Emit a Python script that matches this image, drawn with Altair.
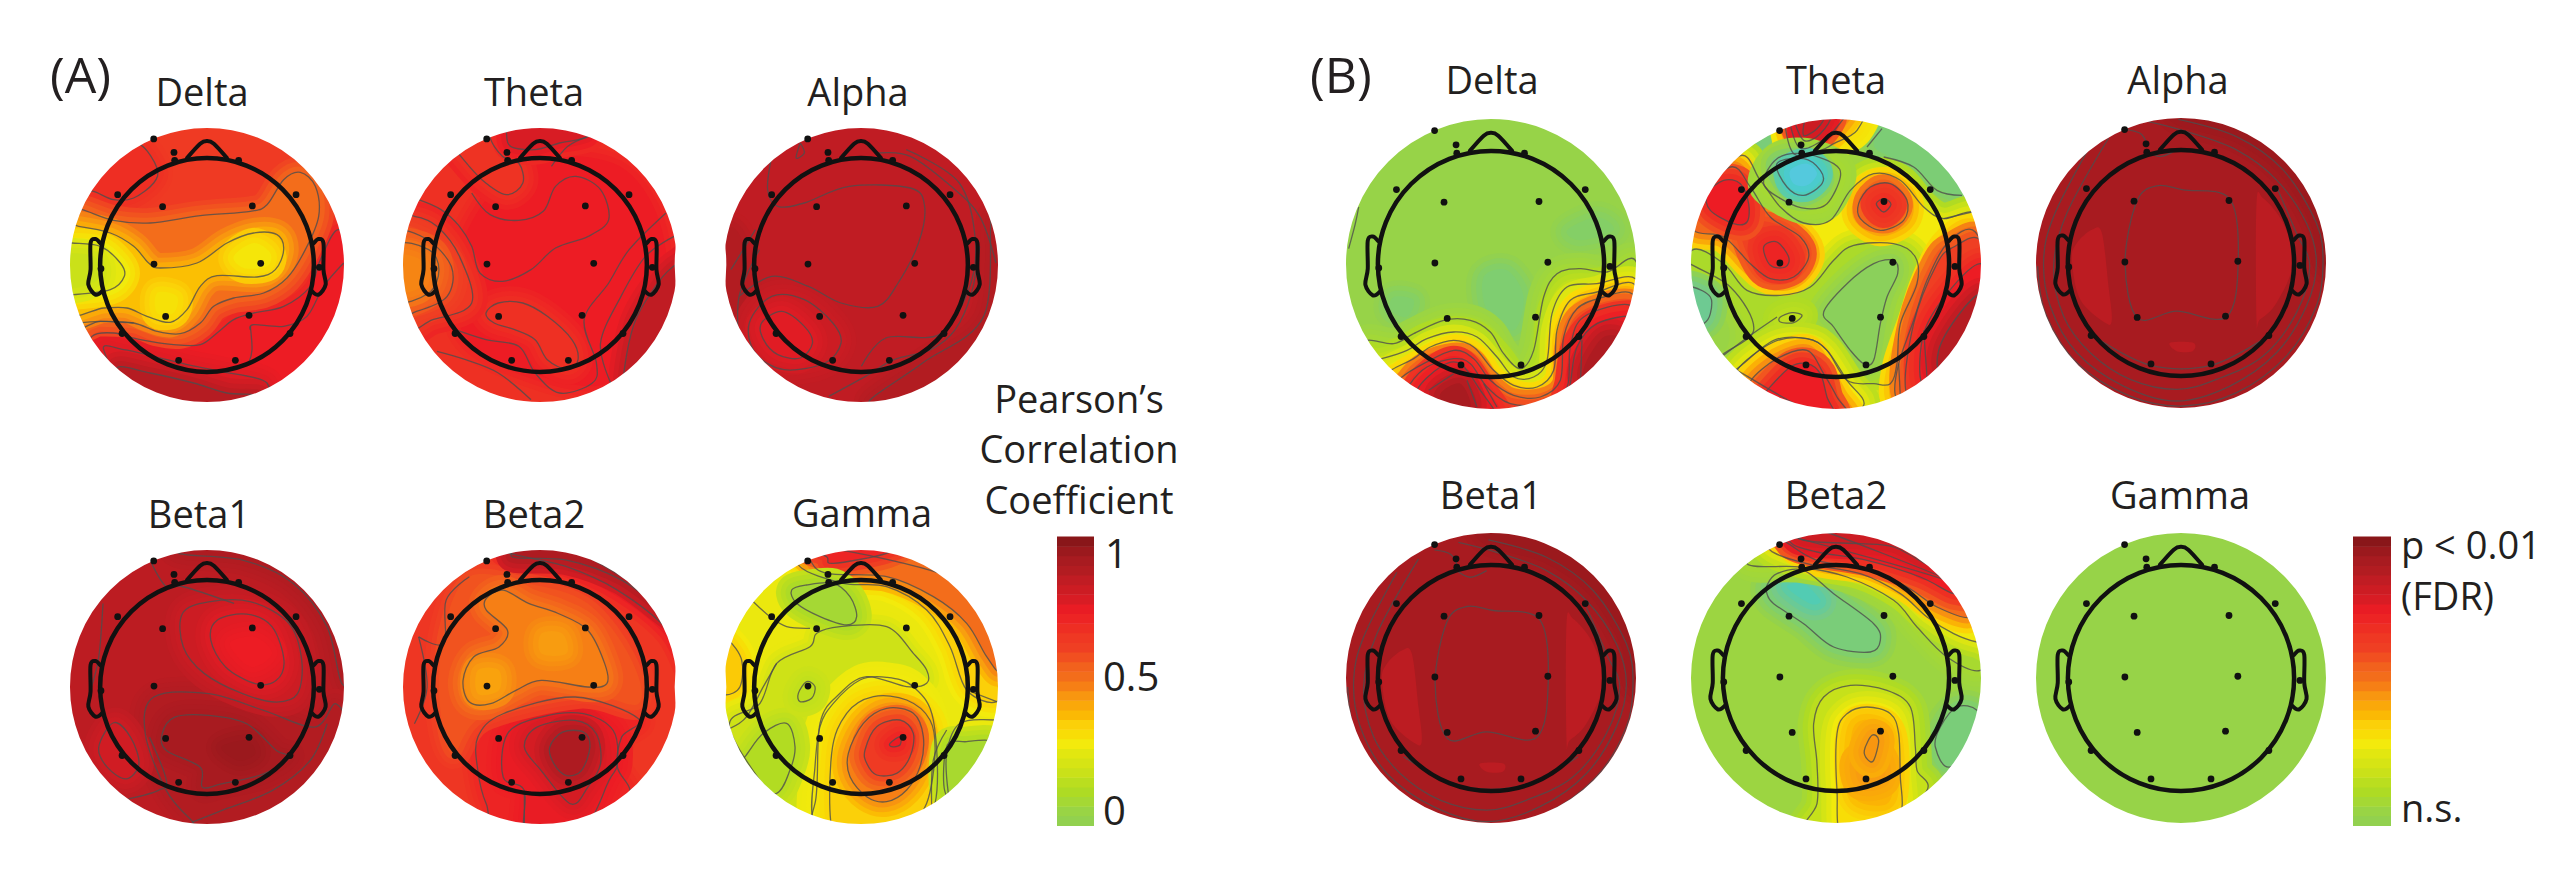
import math
import altair as alt
import pandas as pd

W, H = 2560, 865
FONT = "Open Sans"
INK = "#231f20"

color_domain = [-0.4, -0.12, 0, 0.1, 0.2, 0.27, 0.33, 0.42, 0.5, 0.6, 0.72, 0.85, 0.9, 1]
color_range = ["#6ac6ea", "#76c98a", "#92d14f", "#aedb24", "#d6e414", "#f3ea0c", "#fbd009", "#f89c10",
               "#f36d1b", "#ef3f23", "#ed1c24", "#b81c22", "#a81b20", "#7c1416"]
bar_levels = [0.0, 0.03, 0.07, 0.1, 0.13, 0.17, 0.2, 0.23, 0.27, 0.3, 0.33, 0.37, 0.4, 0.43, 0.47, 0.5, 0.53, 0.57,
              0.6, 0.63, 0.67, 0.7, 0.73, 0.77, 0.8, 0.83, 0.87, 0.9, 0.93, 0.97]

electrodes = [(-.389, -.920), (-.241, -.822), (-.236, -.764), (.231, -.764), (-.652, -.513), (.650, -.513),
              (-.324, -.426), (.331, -.431), (-.387, -.007), (.392, -.012), (-.774, .027), (.820, .017),
              (-.302, .375), (.307, .367), (-.62, .50), (.606, .50), (-.207, .696), (.207, .696)]
nose = [(-.146, -.78), (-.05, -.885), (0, -.905), (.05, -.885), (.146, -.78)]
ear_left = [(-.78, -.16), (-.815, -.19), (-.85, -.16), (-.85, .034), (-.866, .144), (-.815, .216), (-.766, .19)]
ear_right = [(-x, y) for x, y in ear_left]

delta_a_polys = [
    (.62, .72, 1, [(275,920),(340,910),(420,930),(520,945),(600,945),(650,910),(700,870),(760,850),(850,830),(930,770),(960,690),(1015,600),(1100,700),(1050,1000),(700,1180),(400,1150),(250,1000)]),
    (.72, .76, 1, [(310,960),(370,960),(460,980),(560,1005),(660,1025),(800,1060),(760,1180),(400,1150)]),
    (.76, .86, 1, [(350,1015),(450,1030),(580,1060),(680,1090),(780,1100),(700,1180),(400,1150)]),
    (.62, .67, 1, [(420,345),(470,415),(460,460),(400,505),(340,510),(280,485),(200,460),(300,280)]),
    (.62, .5, 1, [(180,530),(245,540),(340,572),(450,580),(600,558),(750,545),(800,525),(850,450),(900,428),(945,470),(955,560),(915,660),(860,745),(790,790),(700,805),(640,830),(600,880),(540,912),(470,905),(400,880),(300,875),(180,885)]),
    (.5, .36, 1, [(170,585),(235,590),(330,610),(400,650),(445,700),(480,715),(590,700),(680,640),(760,610),(830,615),(850,660),(825,720),(770,742),(650,738),(600,770),(560,840),(510,878),(440,860),(380,835),(310,835),(170,850)]),
    (.36, .28, 0, [(700,680),(760,640),(810,670),(800,710),(730,715)]),
    (.36, .29, 0, [(470,790),(530,800),(520,850),(470,850)]),
    (.34, .24, 1, [(160,635),(215,640),(300,650),(360,700),(372,740),(330,780),(220,795),(160,795)]),
    (.24, .17, 0, [(180,680),(280,680),(300,740),(250,770),(180,770)]),
]
delta_a_lines = [
    [(235,880),(300,875),(400,880)],
    [(750,890),(755,960),(745,1000)],
    [(1030,700),(970,770),(920,860),(850,890),(760,885),(750,900)],
]

theta_a_polys = [
    (.66, .72, 0, [(310,440),(440,380),(600,420),(690,600),(690,850),(560,1060),(350,1020),(200,900),(200,650)]),
    (.72, .65, 1, [(195,375),(250,450),(310,495),(350,460),(340,400),(300,380),(270,320),(290,250),(150,300)]),
    (.72, .66, 1, [(260,850),(290,820),(350,820),(410,860),(470,930),(485,990),(460,1020),(410,990),(380,930),(330,900),(280,880)]),
    (.66, .77, 1, [(310,310),(320,350),(380,360),(440,340),(510,320),(500,270),(310,270)]),
    (.72, .83, 1, [(620,1120),(620,890),(680,760),(730,700),(800,700),(800,1120)]),
    (.72, .63, 1, [(85,560),(140,590),(195,680),(225,820),(130,870),(30,900),(20,560)]),
    (.63, .57, 1, [(30,620),(110,625),(175,710),(165,800),(90,845),(30,850)]),
    (.57, .5, 1, [(40,650),(120,660),(145,720),(120,790),(40,810)]),
    (.5, .46, 0, [(40,680),(100,690),(110,740),(90,780),(40,780)]),
]
theta_a_lines = [
    [(225,490),(270,555),(340,572),(400,545),(430,470),(480,440),(540,480),(560,570),(510,620),(430,655),(370,720),(300,755),(245,730),(225,650),(195,590),(150,540),(95,510)],
    [(510,320),(460,350),(420,410)],
    [(185,900),(260,930),(340,950),(380,1030),(440,1090),(520,1060),(530,1000),(500,870),(560,760),(610,660),(700,550)],
    [(140,965),(210,990),(290,1030),(370,1110)],
    [(720,620),(650,680),(590,800),(540,940),(565,1060)],
]

alpha_a_polys = [
    (.83, .87, 1, [(1500,560),(1480,860),(1330,1000),(1200,1120),(1500,1150),(1600,800)]),
    (.82, .87, 0, [(850,600),(890,640),(900,780),(1000,1040),(900,1080),(800,800)]),
    (.83, .8, 1, [(905,880),(960,800),(1040,810),(1110,880),(1130,940),(1090,1000),(990,1020),(920,970)]),
    (.8, .75, 1, [(935,880),(985,845),(1040,890),(1060,940),(1030,985),(975,975),(940,930)]),
]
alpha_a_lines = [
    [(880,800),(960,740),(1050,770),(1130,820),(1220,830),(1270,760),(1320,640),(1335,530),(1300,475),(1150,470),(1040,520),(975,530),(950,480),(960,380)],
    [(1220,370),(1300,380),(1400,470),(1470,560),(1510,700)],
    [(1100,1100),(1190,1040),(1260,990),(1350,960),(1410,900),(1450,790),(1470,650)],
    [(1180,1010),(1240,925),(1370,915),(1440,790),(1460,640),(1420,460),(1290,360)],
    [(860,720),(920,600)],
    [(880,950),(880,800),(930,660)],
    [(1030,340),(1020,385),(1040,370),(1030,340)],
]

beta1_a_polys = [
    (.84, .88, 1, [(330,250),(480,270),(600,340),(680,470),(715,640),(800,600),(600,150),(330,150)]),
    (.84, .87, 1, [(250,790),(270,680),(400,670),(530,720),(650,770),(700,700),(720,800),(600,1000),(400,1090),(360,1050),(300,960)]),
    (.87, .9, 1, [(290,790),(320,740),(400,735),(490,760),(560,840),(590,860),(530,910),(430,940),(385,950),(380,890),(300,840)]),
    (.9, .93, 0, [(430,830),(490,810),(510,850),(470,870)]),
    (.84, .8, 1, [(338,430),(400,395),(500,395),(590,460),(620,570),(610,670),(560,695),(480,670),(390,610),(340,530)]),
    (.8, .75, 1, [(405,510),(420,450),(490,432),(550,470),(578,570),(560,630),(510,640),(440,590)]),
    (.75, .72, 0, [(450,520),(510,500),(550,550),(500,590)]),
    (.84, .79, 1, [(140,830),(175,757),(215,800),(235,880),(205,925),(160,890)]),
]
beta1_a_lines = [
    [(265,280),(300,350),(340,350),(460,400)],
    [(150,400),(140,560),(120,660)],
    [(360,1055),(430,1020),(550,960),(640,870),(680,760)],
    [(210,985),(280,960),(300,930),(260,800)],
]

beta2_a_polys = [
    (.64, .7, 1, [(1040,800),(1100,730),(1270,680),(1420,745),(1380,800),(1370,890),(1400,960),(1420,1120),(1100,1120),(1060,1000),(1040,900)]),
    (.7, .73, 1, [(1110,790),(1190,740),(1290,730),(1360,780),(1370,880),(1350,930),(1300,1060),(1230,1120),(1150,1120),(1150,960),(1100,920)]),
    (.73, .78, 1, [(1150,830),(1180,770),(1270,750),(1320,790),(1330,880),(1300,950),(1260,1000),(1190,900)]),
    (.78, .88, 1, [(1210,830),(1240,785),(1290,785),(1305,830),(1285,900),(1250,915),(1220,880)]),
    (.64, .56, 0, [(960,480),(1020,320),(1160,340),(1300,400),(1400,560),(1420,700),(1280,670),(1050,740),(980,850),(950,700)]),
    (.56, .47, 1, [(1060,385),(1100,360),(1160,400),(1230,430),(1300,480),(1340,580),(1345,640),(1300,650),(1190,630),(1130,660),(1070,700),(1020,695),(1005,630),(1030,560),(1090,530),(1110,480),(1060,420)]),
    (.47, .42, 0, [(1190,490),(1240,490),(1250,550),(1190,550)]),
    (.47, .41, 0, [(1040,600),(1090,600),(1090,660),(1040,670)]),
    (.64, .76, 1, [(1100,240),(1250,290),(1370,360),(1490,480),(1550,600),(1600,300),(1250,120)]),
    (.76, .88, 1, [(1380,330),(1500,440),(1600,300),(1200,150),(1120,260),(1250,270)]),
]
beta2_a_lines = [
    [(1020,320),(965,390),(960,520),(900,500)],
    [(900,500),(920,650),(890,760)],
    [(1150,960),(1150,1060)],
]

gamma_a_polys = [
    (.25, .33, 1, [(430,640),(560,650),(680,720),(750,830),(800,960),(890,995),(1000,900),(1000,500),(300,450),(300,590)]),
    (.33, .5, 1, [(330,570),(380,610),(560,620),(700,680),(800,760),(860,860),(900,900),(1000,700),(600,450),(300,480)]),
    (.5, .7, 1, [(380,560),(400,580),(560,550),(620,440),(300,450)]),
    (.25, .34, 1, [(85,810),(125,870),(120,950),(75,975),(30,950),(30,800)]),
    (.27, .18, 1, [(180,1000),(230,880),(330,830),(350,790),(420,770),(560,770),(640,850),(680,900),(680,940),(620,950),(500,920),(420,970),(360,1060),(345,1300),(280,1360),(90,1080)]),
    (.25, .27, 1, [(340,1350),(345,1190),(360,1070),(400,1000),(480,930),(560,922),(640,950),(700,1050),(705,1300),(620,1400),(420,1420)]),
    (.27, .33, 1, [(400,1400),(395,1150),(440,1030),(520,980),(620,990),(690,1050),(705,1150),(680,1300),(620,1400),(500,1420)]),
    (.33, .47, 1, [(445,1150),(490,1060),(560,1015),(640,1030),(670,1100),(660,1190),(620,1260),(560,1295),(500,1280),(450,1220)]),
    (.47, .62, 1, [(495,1140),(530,1070),(600,1050),(640,1090),(630,1160),(590,1210),(530,1215),(500,1180)]),
    (.62, .72, 1, [(570,1120),(600,1100),(600,1125),(575,1130)]),
    (.18, .07, 1, [(275,660),(320,645),(400,640),(450,680),(470,740),(440,765),(360,740),(290,700)]),
    (.18, .11, 1, [(135,1160),(190,1090),(260,1060),(285,1130),(270,1200),(230,1270),(100,1300),(100,1200)]),
    (.2, .08, 1, [(740,1130),(800,1115),(880,1115),(920,1200),(745,1280)]),
    (.18, .14, 1, [(295,970),(320,935),(345,950),(335,985),(300,995)]),
]
gamma_a_lines = [
    [(160,695),(210,740),(260,770),(330,775)],
    [(90,1075),(140,1040),(190,950),(230,880)],
    [(745,1270),(740,1150),(780,1060),(885,1050)],
    [(695,1310),(700,1170),(740,1080)],
    [(800,960),(890,995)],
]

delta_b_polys = [
    (.02, -.06, 0, [(610,740),(680,720),(730,800),(700,900),(620,840)]),
    (.02, -.05, 0, [(340,800),(400,810),(380,860),(330,840)]),
    (.02, -.04, 0, [(860,600),(950,560),(1000,600),(900,630)]),
    (.02, .08, 1, [(260,930),(340,940),(400,910),(490,870),(570,870),(630,905),(670,970),(720,1015),(760,960),(790,800),(830,730),(900,715),(980,725),(1065,690),(1150,900),(900,1200),(500,1200),(200,1000)]),
    (.08, .17, 1, [(305,985),(380,960),(440,925),(520,905),(590,920),(650,980),(700,1040),(760,1040),(800,990),(815,850),(860,770),(950,760),(1065,745),(1140,900),(900,1200),(500,1200),(250,1000)]),
    (.17, .27, 1, [(335,1018),(400,985),(450,950),(520,930),(580,950),(640,1020),(700,1065),(770,1070),(820,1020),(830,900),(870,810),(950,785),(1060,760),(1130,900),(900,1200),(500,1200),(300,1050)]),
    (.27, .42, 1, [(365,1040),(430,1000),(520,960),(580,985),(630,1050),(700,1095),(780,1100),(840,1050),(850,920),(890,835),(970,800),(1055,790),(1120,900),(900,1200),(500,1200),(330,1080)]),
    (.42, .62, 1, [(390,1060),(440,1010),(520,985),(570,1000),(620,1070),(690,1120),(790,1120),(860,1070),(870,950),(910,860),(1050,825),(1100,950),(900,1200),(600,1200),(380,1100)]),
    (.62, .74, 1, [(410,1080),(480,1010),(540,1000),(600,1080),(650,1160),(590,1200),(430,1150)]),
    (.74, .9, 0, [(480,1090),(540,1060),(570,1130),(500,1130)]),
    (.62, .74, 1, [(870,1060),(890,950),(950,880),(1060,860),(1100,950),(900,1150),(860,1100)]),
    (.74, .88, 0, [(920,990),(970,920),(1020,930),(960,1010),(910,1040)]),
]
delta_b_lines = [
    [(205,655),(225,580),(235,530)],
    [(445,1080),(520,1030)],
    [(560,1050),(590,1130)],
    [(610,1060),(650,1130)],
    [(905,930),(900,1070)],
]

theta_b_polys = [
    (.05, -.07, 0, [(640,340),(690,380),(760,410),(840,480),(910,490),(900,350),(700,260)]),
    (.05, -.08, 0, [(230,350),(300,430),(320,350),(370,290),(300,280)]),
    (.05, .27, 1, [(60,600),(230,380),(300,450),(360,530),(430,578),(510,570),(570,480),(640,430),(720,450),(790,530),(850,565),(935,545),(1000,600),(1000,800),(800,1120),(550,1180),(230,1020),(180,980),(280,900),(210,770),(60,680)]),
    (.27, .09, 1, [(190,700),(260,780),(360,795),(450,770),(520,690),(580,645),(700,640),(765,680),(770,760),(720,880),(710,1000),(690,1060),(640,1060),(560,1050),(500,960),(440,925),(340,930),(230,1015),(120,1100),(40,800),(95,660)]),
    (.09, -.02, 1, [(490,845),(560,760),(640,700),(700,690),(712,730),(680,800),(660,880),(640,990),(610,1000),(570,960),(520,890)]),
    (.09, .03, 0, [(40,780),(190,860),(200,950),(100,980)]),
    (.03, -.14, 1, [(97,770),(150,800),(150,850),(130,880),(60,900),(50,780)]),
    (.09, .14, 1, [(360,860),(395,847),(425,855),(400,877),(360,875)]),
    (.09, .27, 1, [(230,1020),(340,935),(440,925),(500,960),(560,1050),(610,1125),(500,1250),(200,1150)]),
    (.27, .5, 1, [(272,1050),(350,985),(440,960),(490,1030),(530,1100),(560,1160),(400,1220),(270,1100)]),
    (.5, .72, 1, [(320,1080),(390,1010),(440,1000),(480,1030),(500,1100),(520,1160),(400,1220),(300,1110)]),
    (.27, .42, 1, [(705,1095),(715,1000),(760,870),(800,750),(860,640),(945,605),(1040,800),(900,1100),(760,1150)]),
    (.42, .6, 1, [(740,1090),(760,880),(830,700),(880,650),(960,630),(1020,800),(900,1100)]),
    (.6, .72, 1, [(785,1060),(790,910),(860,790),(960,700),(1020,800),(900,1080)]),
    (.72, .86, 1, [(835,960),(890,860),(960,790),(1000,850),(850,1020)]),
    (.27, .52, 1, [(210,410),(270,470),(330,560),(420,620),(445,680),(400,740),(330,745),(270,700),(190,620),(100,600),(60,500)]),
    (.52, .62, 0, [(260,600),(350,600),(420,660),(390,720),(310,720)]),
    (.62, .7, 1, [(310,650),(350,635),(385,680),(375,710),(330,705)]),
    (.52, .72, 1, [(140,490),(190,450),(240,460),(265,520),(260,575),(220,580),(150,540)]),
    (.27, .45, 1, [(595,520),(630,470),(690,460),(740,510),(730,570),(660,600),(600,565)]),
    (.45, .6, 0, [(630,510),(670,480),(710,520),(680,560),(630,550)]),
    (.6, .68, 1, [(648,520),(672,505),(692,522),(670,545)]),
    (.27, .3, 1, [(370,250),(400,370),(480,360),(520,340),(590,300),(600,220),(380,220)]),
    (.3, .5, 1, [(385,260),(415,350),(470,340),(530,290),(560,220),(390,220)]),
    (.5, .72, 1, [(400,260),(430,330),(480,310),(510,250),(410,220)]),
    (.72, .8, 1, [(430,315),(470,295),(490,260),(440,260)]),
    (.05, .08, 1, [(310,460),(350,385),(430,370),(520,400),(540,440),(500,520),(440,535),(370,510)]),
    (.08, -.14, 1, [(350,400),(430,385),(480,420),(485,460),(430,495),(380,470)]),
    (-.14, -.34, 0, [(390,420),(440,400),(470,430),(440,465),(400,460)]),
]
theta_b_lines = [
    [(620,350),(665,295)],
    [(670,380),(760,410),(830,480),(905,495)],
    [(190,975),(270,915),(350,860)],
    [(850,565),(935,545)],
    [(720,1100),(715,1000)],
    [(800,1040),(790,900)],
]

flat_polys = [
    (.84, .84, 0, [(185,390),(215,400),(235,560),(245,660),(225,670),(150,600),(125,480),(140,430)]),
    (.84, .84, 0, [(680,310),(700,295),(760,370),(790,490),(740,610),(690,660),(680,660)]),
    (.84, .84, 0, [(420,730),(490,730),(488,755),(440,755)]),
    (.9, .9, 1, [(320,305),(380,258),(460,270),(600,298),(625,487),(590,652),(440,635),(322,655),(285,488)]),
    (.9, .93, 0, [(445,58),(620,110),(760,210),(860,370),(880,490),(1000,500),(800,0),(440,0)]),
]
flat_lines = [
    [(283,88),(330,100),(350,130)],
    [(355,65),(470,95),(620,150),(740,240),(830,370),(860,490),(830,620),(740,760),(600,860),(440,905),(280,860),(140,760),(60,620),(40,480),(70,350),(170,155)],
    [(445,58),(620,110),(760,210),(860,370),(880,490),(860,620),(770,770),(620,880),(460,920),(300,890),(140,790),(45,640),(22,500)],
    [(740,260),(800,400),(840,500),(800,640),(700,770),(560,840),(440,870),(300,840),(180,760),(100,650),(70,500),(110,340),(235,115)],
    [(190,710),(360,797),(545,797),(715,710)],
    [(350,150),(390,170),(440,150)],
]

beta2_b_polys = [
    (.04, -.08, 1, [(320,345),(350,310),(430,300),(520,370),(640,460),(660,510),(630,545),(520,530),(430,460),(340,400),(320,370)]),
    (-.08, -.22, 0, [(380,350),(430,340),(480,390),(450,400)]),
    (.04, .08, 1, [(260,280),(420,290),(560,320),(700,390),(770,470),(860,560),(960,600),(1050,500),(800,100),(300,100)]),
    (.08, .26, 1, [(330,240),(440,280),(600,310),(720,370),(800,440),(880,490),(950,515),(1050,500),(800,100),(300,100)]),
    (.26, .5, 1, [(370,210),(470,270),(620,295),(740,350),(830,410),(930,440),(1000,300),(300,100)]),
    (.5, .72, 1, [(390,215),(470,245),(620,270),(780,320),(880,370),(1000,300),(400,100)]),
    (.72, .8, 1, [(410,200),(470,215),(600,220),(700,230),(800,280),(650,120),(420,150)]),
    (.04, -.08, 1, [(950,720),(890,710),(840,770),(825,830),(870,890),(1000,800)]),
    (.04, .16, 1, [(430,1100),(470,1000),(470,880),(460,760),(490,680),(570,645),(680,660),(750,710),(765,830),(770,900),(800,960),(700,1150)]),
    (.16, .3, 1, [(550,1100),(530,960),(530,790),(560,730),(620,710),(690,730),(715,790),(720,920),(725,1010),(710,1100)]),
    (.3, .38, 0, [(570,900),(580,770),(640,750),(690,790),(700,920),(680,1000),(590,990)]),
    (.38, .42, 0, [(590,870),(660,860),(670,930),(600,940)]),
    (.38, .43, 1, [(612,840),(635,795),(655,810),(640,870),(622,868)]),
]
beta2_b_lines = []

# name, centre x, centre y, disc radius, base value, picture centre x, y, picture radius x, y, polygons, lines
heads = [
    ("Delta", 207, 265, 137, .62, 620, 706, 411, 411, delta_a_polys, delta_a_lines),
    ("Theta", 540, 265, 137, .66, 392, 706, 335, 411, theta_a_polys, theta_a_lines),
    ("Alpha", 861, 265, 137, .83, 1179, 706, 336, 411, alpha_a_polys, alpha_a_lines),
    ("Beta1", 207, 687, 137, .84, 396, 650, 324, 410, beta1_a_polys, beta1_a_lines),
    ("Beta2", 540, 687, 137, .64, 1187, 650, 324, 410, beta2_a_polys, beta2_a_lines),
    ("Gamma", 861, 687, 137, .25, 483, 951, 411, 411, gamma_a_polys, gamma_a_lines),
    ("Delta", 1491, 264, 145, .02, 632, 701, 435, 435, delta_b_polys, delta_b_lines),
    ("Theta", 1836, 264, 145, .05, 527, 701, 435, 435, theta_b_polys, theta_b_lines),
    ("Alpha", 2181, 263, 145, .9, 453, 490, 436, 436, flat_polys, flat_lines),
    ("Beta1", 1491, 678, 145, .9, 453, 473, 436, 436, flat_polys, flat_lines),
    ("Beta2", 1836, 678, 145, .04, 527, 623, 435, 435, beta2_b_polys, beta2_b_lines),
    ("Gamma", 2181, 678, 145, .02, 453, 490, 436, 436, [], []),
]

titles = [("Delta", 202, 106), ("Theta", 534, 106), ("Alpha", 858, 106), ("Beta1", 199, 528), ("Beta2", 534, 528),
          ("Gamma", 862, 527), ("Delta", 1492, 94), ("Theta", 1836, 94), ("Alpha", 2178, 94), ("Beta1", 1491, 509),
          ("Beta2", 1836, 509), ("Gamma", 2180, 509)]
bar_titles = [("Pearson\u2019s", 1079, 413), ("Correlation", 1079, 463), ("Coefficient", 1079, 514)]
labels = [("1", 1105, 568), ("0.5", 1103, 691), ("0", 1103, 825)]
labels_b = [("p < 0.01", 2401, 559), ("(FDR)", 2401, 610), ("n.s.", 2401, 822)]
panels = [("(A)", 50, 93), ("(B)", 1310, 93)]
bars = [(1057, 1094), (2353, 2391)]
bar_top, bar_bottom = 537, 826
halo_passes = [(.22, .25), (.15, .5), (.08, .75), (0, 1)]
MAX_REACH, MASK = 1.1, 1.36


def to_page(head, pts):
    _, cx, cy, R, _, zx, zy, rx, ry, _, _ = head
    out = []
    for px, py in pts:
        u, v = (px - zx) / rx, (py - zy) / ry
        d = math.hypot(u, v)
        if d > MAX_REACH:
            u, v = u * MAX_REACH / d, v * MAX_REACH / d
        out.append((cx + R * u - 8, cy + R * v - 8))
    return out


fill_rows, closed_rows, open_rows, outline_rows, dot_rows, ring_rows = [], [], [], [], [], []
op = 0
for head in heads:
    _, cx, cy, R, base, zx, zy, rx, ry, polys, lines = head
    base_pts = [(zx + rx * 1.1 * a, zy + ry * 1.1 * b) for a, b in
                [(1, 0), (.7, .7), (0, 1), (-.7, .7), (-1, 0), (-.7, -.7), (0, -1), (.7, -.7)]]
    for outer, val, contour, pts in [(base, base, 0, base_pts)] + polys:
        page = to_page(head, pts)
        passes = halo_passes if outer != val else [(0, 1)]
        for width, t in passes:
            op += 1
            for i, (x, y) in enumerate(page):
                fill_rows.append(dict(op=op, i=i, x=x, y=y, v=outer + (val - outer) * t, w=width * R))
        if contour:
            op += 1
            for i, (x, y) in enumerate(page):
                closed_rows.append(dict(op=op, i=i, x=x, y=y))
    for line in lines:
        op += 1
        for i, (x, y) in enumerate(to_page(head, line)):
            open_rows.append(dict(op=op, i=i, x=x, y=y))
    for shape in (nose, ear_left, ear_right):
        op += 1
        for i, (u, v) in enumerate(shape):
            outline_rows.append(dict(op=op, i=i, x=cx + R * u - 8, y=cy + R * v - 8))
    for u, v in electrodes:
        dot_rows.append(dict(x=cx + R * u - 8, y=cy + R * v - 8))
    # Vega draws a circle symbol with diameter sqrt(size)
    ring_rows.append(dict(x=cx - 8, y=cy - 8, kind="mask", size=(R * (1 + MASK)) ** 2, w=R * (MASK - 1)))
    ring_rows.append(dict(x=cx - 8, y=cy - 8, kind="head", size=(2 * R * .78) ** 2, w=4.5))

band_h = (bar_bottom - bar_top) / len(bar_levels)
bar_rows = []
for x0, x1 in bars:
    for k, level in enumerate(bar_levels):
        bar_rows.append(dict(x=x0 - 8, x2=x1 - 8, y=bar_bottom - k * band_h - 8,
                             y2=bar_bottom - (k + 1) * band_h - 8.5, v=level))

X = alt.X("x:Q", scale=alt.Scale(domain=[0, W]), axis=None)
Y = alt.Y("y:Q", scale=alt.Scale(domain=[H, 0]), axis=None)
cscale = alt.Scale(domain=color_domain, range=color_range, clamp=True)

fills = alt.Chart(pd.DataFrame(fill_rows)).mark_line(filled=True, interpolate="cardinal-closed", strokeJoin="round").encode(
    x=X, y=Y, detail="op:O", order="i:Q",
    fill=alt.Fill("v:Q", scale=cscale, legend=None),
    stroke=alt.Stroke("v:Q", scale=cscale, legend=None),
    strokeWidth=alt.StrokeWidth("w:Q", scale=None),
)
closed = alt.Chart(pd.DataFrame(closed_rows)).mark_line(
    interpolate="cardinal-closed", color="#4d4d4d", strokeWidth=1.3, opacity=.8
).encode(x=X, y=Y, detail="op:O", order="i:Q")
opened = alt.Chart(pd.DataFrame(open_rows)).mark_line(
    interpolate="cardinal", color="#4d4d4d", strokeWidth=1.3, opacity=.8
).encode(x=X, y=Y, detail="op:O", order="i:Q")
rings = pd.DataFrame(ring_rows)
mask = alt.Chart(rings[rings.kind == "mask"]).mark_point(shape="circle", filled=False, color="white", opacity=1).encode(
    x=X, y=Y, size=alt.Size("size:Q", scale=None), strokeWidth=alt.StrokeWidth("w:Q", scale=None))
ring = alt.Chart(rings[rings.kind == "head"]).mark_point(shape="circle", filled=False, color="#111111", opacity=1).encode(
    x=X, y=Y, size=alt.Size("size:Q", scale=None), strokeWidth=alt.StrokeWidth("w:Q", scale=None))
outline = alt.Chart(pd.DataFrame(outline_rows)).mark_line(
    color="#111111", strokeWidth=4, strokeJoin="round", strokeCap="round", interpolate="cardinal"
).encode(x=X, y=Y, detail="op:O", order="i:Q")
dots = alt.Chart(pd.DataFrame(dot_rows)).mark_circle(size=46, color="#111111", opacity=1).encode(x=X, y=Y)
bar = alt.Chart(pd.DataFrame(bar_rows)).mark_rect().encode(
    x=X, x2="x2:Q", y=Y, y2="y2:Q", fill=alt.Fill("v:Q", scale=cscale, legend=None))


def text_layer(rows, size, align):
    df = pd.DataFrame([dict(t=t, x=x - 8, y=y - 8) for t, x, y in rows])
    return alt.Chart(df).mark_text(font=FONT, fontSize=size, align=align, baseline="alphabetic", color=INK).encode(
        x=X, y=Y, text="t:N")


chart = alt.layer(
    fills, closed, opened, mask, ring, outline, dots, bar,
    text_layer(titles, 38, "center"), text_layer(bar_titles, 38, "center"), text_layer(labels, 40, "left"),
    text_layer(labels_b, 38, "left"), text_layer(panels, 50, "left"),
).properties(width=W, height=H, padding=0, autosize=alt.AutoSizeParams(type="none"), background="white").configure_view(stroke=None)

chart.save("out.html", embed_options={"renderer": "svg", "actions": False})
